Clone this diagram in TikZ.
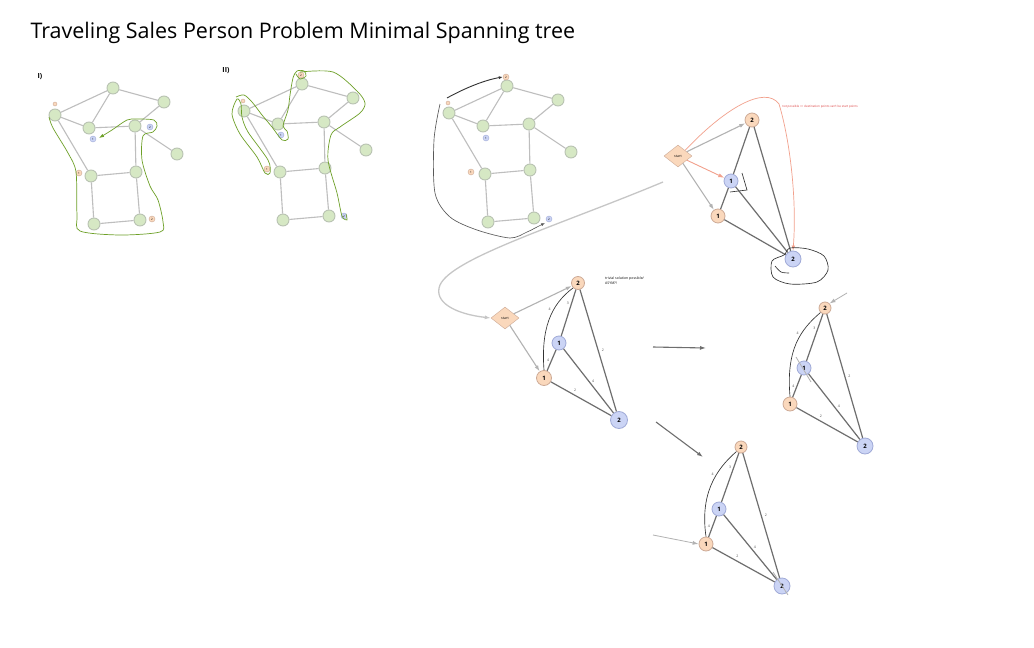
\documentclass[tikz,border=0pt]{standalone}
\usepackage{fontspec}
\setmainfont{Open Sans}
\usetikzlibrary{arrows.meta,positioning,shapes.geometric}
\definecolor{cityfill}{RGB}{214,232,196}
\definecolor{cityline}{RGB}{185,195,178}
\definecolor{roadgray}{RGB}{190,190,190}
\definecolor{pickgreen}{RGB}{110,160,40}
\definecolor{softorange}{RGB}{250,216,188}
\definecolor{orangeline}{RGB}{205,170,150}
\definecolor{softblue}{RGB}{203,212,245}
\definecolor{blueline}{RGB}{160,170,215}
\definecolor{linkgray}{RGB}{110,110,110}
\definecolor{salmon}{RGB}{242,160,140}
\definecolor{notered}{RGB}{220,60,60}

\begin{document}
\begin{tikzpicture}[>=Latex, x=1pt, y=-1pt,
  city/.style={circle, draw=cityline, fill=cityfill, line width=0.9pt, minimum size=12pt, inner sep=0pt},
  otag/.style={circle, draw=orangeline, fill=softorange, minimum size=6pt, inner sep=0pt, font=\fontsize{3}{3}\selectfont},
  btag/.style={circle, draw=blueline, fill=softblue, minimum size=6pt, inner sep=0pt, font=\fontsize{3}{3}\selectfont},
  road/.style={draw=roadgray, line width=1.1pt},
  pick/.style={draw=pickgreen, line width=0.7pt},
  ink/.style={draw=black!80, line width=0.65pt},
  ostate/.style={circle, draw=orangeline, fill=softorange, line width=0.8pt, minimum size=14pt, inner sep=0pt, font=\fontsize{6}{6}\selectfont\bfseries},
  bstate/.style={circle, draw=blueline, fill=softblue, line width=0.8pt, minimum size=14pt, inner sep=0pt, font=\fontsize{6}{6}\selectfont\bfseries},
  startbox/.style={diamond, draw=orangeline, fill=softorange, minimum width=28pt, minimum height=22pt, inner sep=0pt, font=\fontsize{3.5}{4}\selectfont},
  link/.style={draw=linkgray, line width=1.2pt},
  tryarrow/.style={-{Latex[length=6pt,width=4pt]}, draw=gray!60, line width=1.1pt},
  movearrow/.style={-{Latex[length=6pt,width=4pt]}, draw=linkgray, line width=1.1pt},
  wlabel/.style={font=\fontsize{3.5}{4}\selectfont, text=black!70, inner sep=0pt}
]
\useasboundingbox[fill=white] (0,0) rectangle (1034,648);

\node[anchor=west, font=\fontsize{21.5}{24}\selectfont] (title) at (27,33) {Traveling Sales Person Problem Minimal Spanning tree};
\node[font=\fontsize{7}{7}\selectfont\bfseries] (lblI) at (40,77) {I)};
\node[font=\fontsize{7}{7}\selectfont\bfseries] (lblII) at (226,71) {II)};

% the same city graph three times
\foreach \g/\dx/\dy in {g1/0/0, g2/189/-4, g3/394/-2}{
  \begin{scope}[shift={(\dx,\dy)}]
    \node[city] (\g-top) at (113,88) {};
    \node[city] (\g-tr) at (164,102) {};
    \node[city] (\g-left) at (55,115) {};
    \node[city] (\g-ml) at (89,128) {};
    \node[city] (\g-mr) at (135,126) {};
    \node[city] (\g-right) at (177,154) {};
    \node[city] (\g-cl) at (91,176) {};
    \node[city] (\g-cr) at (136,172) {};
    \node[city] (\g-bl) at (94,224) {};
    \node[city] (\g-br) at (140,220) {};
    \draw[road] (\g-left) -- (\g-top);
    \draw[road] (\g-top) -- (\g-tr);
    \draw[road] (\g-top) -- (\g-ml);
    \draw[road] (\g-left) -- (\g-ml);
    \draw[road] (\g-ml) -- (\g-mr);
    \draw[road] (\g-mr) -- (\g-tr);
    \draw[road] (\g-mr) -- (\g-right);
    \draw[road] (\g-mr) -- (\g-cr);
    \draw[road] (\g-left) -- (\g-cl);
    \draw[road] (\g-cl) -- (\g-cr);
    \draw[road] (\g-cl) -- (\g-bl);
    \draw[road] (\g-cr) -- (\g-br);
    \draw[road] (\g-bl) -- (\g-br);
  \end{scope}
}

% start / end tags
\node[otag, minimum size=4pt] (m1-s) at (55,104) {};
\node[btag] (m1-b1) at (93,139) {1};
\node[btag] (m1-b2) at (150,127) {2};
\node[otag] (m1-o1) at (79,173) {1};
\node[otag] (m1-o2) at (152,219) {2};
\node[otag, minimum size=4pt] (m2-s) at (243,101) {};
\node[otag] (m2-o2) at (301,75) {2};
\node[btag] (m2-b1) at (281,135) {1};
\node[otag] (m2-o1) at (267,169) {1};
\node[btag] (m2-b2) at (344,216) {2};
\node[otag, minimum size=4pt] (m3-s) at (448,103) {};
\node[otag] (m3-o2) at (506,77) {2};
\node[btag] (m3-b1) at (486,138) {1};
\node[otag] (m3-o1) at (471,172) {1};
\node[btag] (m3-b2) at (549,219) {2};

% green sketches
\draw[pick, -{Latex[length=5pt,width=3.5pt]}] plot[smooth] coordinates {(49,117) (53,128) (68,153) (76,172) (77,215) (80,231) (120,235) (160,232) (163,222) (158,200) (150,186) (142,160) (143,136) (153,132) (157,126) (154,120) (137,119) (127,120) (112,130) (99,138)};
\draw[pick] plot[smooth cycle] coordinates {(237,99) (232,114) (240,134) (257,157) (265,173) (270,173) (268,160) (248,132) (242,117) (241,104)};
\draw[pick] plot[smooth] coordinates {(236,97) (244,95) (252,102) (262,115) (272,127) (282,140) (288,139) (287,131) (283,126) (288,110) (290,95) (293,78) (297,71) (304,71) (306,76) (300,79) (296,74)};
\draw[pick] plot[smooth] coordinates {(300,72) (333,72) (357,91) (365,103) (360,113) (340,127) (331,135) (328,160) (337,193) (342,216) (347,220) (346,214)};

% black sketches on graph III
\coordinate (inkA) at (447,98);
\draw[ink, line width=0.9pt, -{Latex[length=4pt,width=3pt]}] (inkA) .. controls (465,88) and (485,80) .. (m3-o2.west);
\draw[ink, draw=black!65, -{Latex[length=4pt,width=3pt]}] plot[smooth] coordinates {(440,104) (434,140) (435,193) (450,217) (477,230) (510,238) (527,232) (537,227) (545,223)};

% step A
\node[startbox] (aStart) at (678,156) {start};
\node[ostate] (aO2) at (752,120) {2};
\node[bstate] (aB1) at (731,181) {1};
\node[ostate] (aO1) at (718,216) {1};
\node[bstate, minimum size=16pt] (aB2) at (793,259) {2};
\draw[link] (aO2) -- (aB1);
\draw[link] (aO2) -- (aB2);
\draw[link] (aB1) -- (aO1);
\draw[link] (aB1) -- (aB2);
\draw[link] (aO1) -- (aB2);
\draw[tryarrow] (aStart) -- (aO2);
\draw[tryarrow] (aStart) -- (aO1);
\draw[-{Latex[length=6pt,width=4pt]}, draw=salmon, line width=0.9pt] (aStart) -- (aB1);
\draw[-{Latex[length=5pt,width=3.5pt]}, draw=salmon, line width=0.7pt] (aStart.north east) .. controls (725,108) and (765,85) .. (779,104) .. controls (790,140) and (797,200) .. (aB2.north);
\node[anchor=west, text=notered, font=\fontsize{3}{3.5}\selectfont, inner sep=0pt] (note) at (782,107) {not possible => destination points can't be start points};
\draw[ink] (742,173) -- (747,190) -- (730,192);
\draw[ink] plot[smooth cycle] coordinates {(784,255) (772,261) (773,277) (790,284) (817,282) (828,270) (824,256) (808,249) (790,248)};
\draw[ink] plot[smooth] coordinates {(775,266) (781,272) (789,273)};

% step B
\coordinate (fromA) at (663,182);
\node[startbox] (bStart) at (505,318) {start};
\node[ostate, minimum size=13pt] (bO2) at (578,283) {2};
\node[bstate] (bB1) at (559,343) {1};
\node[ostate, minimum size=15pt] (bO1) at (544,378) {1};
\node[bstate, minimum size=17pt] (bB2) at (619,420) {2};
\draw[-{Latex[length=6pt,width=4pt]}, draw=gray!45, line width=1.3pt] (fromA) .. controls (560,225) and (452,258) .. (440,285) .. controls (433,302) and (455,314) .. (bStart.west);
\draw[tryarrow] (bStart) -- (bO2);
\draw[tryarrow] (bStart) -- (bO1);
\draw[link] (bO2) -- node[wlabel, pos=0.3, left=2pt] {3} (bB1);
\draw[link] (bO2) -- node[wlabel, right=3pt] {2} (bB2);
\draw[link] (bB1) -- node[wlabel, left=2pt] {4} (bO1);
\draw[link] (bB1) -- node[wlabel, right=3pt] {4} (bB2);
\draw[link] (bO1) -- node[wlabel, pos=0.4, above=3pt] {2} (bB2);
\draw[ink] (bO2.south west) .. controls (550,305) and (541,330) .. node[wlabel, pos=0.35, left=3pt] {4} (bO1.north);
\node[anchor=north west, align=left, font=\fontsize{3.5}{4.5}\selectfont, inner sep=0pt] (trivial) at (605,277) {trivial solution possible/\\ ASYM?!};

% step C
\coordinate (stepAend) at (653,347);
\coordinate (stepAnext) at (706,348);
\draw[movearrow] (stepAend) -- (stepAnext);
\coordinate (cin) at (847,293);
\node[ostate, minimum size=12pt] (cO2) at (825,308) {2};
\node[bstate] (cB1) at (804,368) {1};
\node[ostate] (cO1) at (790,404) {1};
\node[bstate, minimum size=16pt] (cB2) at (865,446) {2};
\draw[tryarrow, line width=0.8pt] (cin) -- (cO2.north east);
\draw[link] (cO2) -- node[wlabel, pos=0.3, left=2pt] {3} (cB1);
\draw[link] (cO2) -- node[wlabel, right=3pt] {2} (cB2);
\draw[link] (cB1) -- node[wlabel, left=2pt] {4} (cO1);
\draw[link] (cB1) -- node[wlabel, right=3pt] {4} (cB2);
\draw[link] (cO1) -- node[wlabel, pos=0.4, above=3pt] {2} (cB2);
\draw[ink] (cO2.south west) .. controls (800,330) and (786,350) .. node[wlabel, pos=0.35, left=3pt] {4} (cO1.north);
\draw[draw=gray!60, line width=0.8pt] (796,357) -- (811,382);

% step D
\coordinate (stepBend) at (656,422);
\coordinate (stepBnext) at (703,457);
\draw[movearrow] (stepBend) -- (stepBnext);
\coordinate (din) at (653,535);
\node[ostate, minimum size=12pt] (dO2) at (741,447) {2};
\node[bstate] (dB1) at (719,509) {1};
\node[ostate] (dO1) at (706,544) {1};
\node[bstate, minimum size=16pt] (dB2) at (782,586) {2};
\draw[tryarrow, line width=0.8pt] (din) -- (dO1.west);
\draw[link] (dO2) -- node[wlabel, pos=0.3, left=2pt] {3} (dB1);
\draw[link] (dO2) -- node[wlabel, right=3pt] {2} (dB2);
\draw[link] (dB1) -- node[wlabel, left=2pt] {4} (dO1);
\draw[link] (dB1) -- node[wlabel, right=3pt] {4} (dB2);
\draw[link] (dO1) -- node[wlabel, pos=0.4, above=3pt] {2} (dB2);
\draw[ink] (dO2.south west) .. controls (715,470) and (700,495) .. node[wlabel, pos=0.35, left=3pt] {4} (dO1.north);
\draw[draw=gray!60, line width=0.8pt] (773,572) -- (788,595);
\end{tikzpicture}
\end{document}
